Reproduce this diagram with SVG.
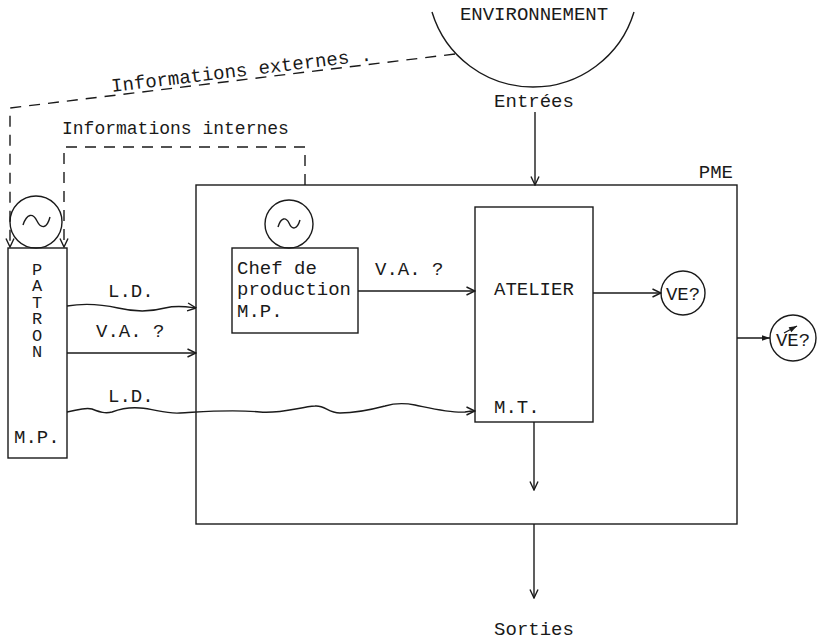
<svg xmlns="http://www.w3.org/2000/svg" width="828" height="640" viewBox="0 0 828 640">
  <defs>
    <style>
      .t { font-family: "Liberation Mono", "Courier New", monospace; font-size: 19px; fill: #1a1a1a; }
      .m { text-anchor: middle; }
      .ln { fill: none; stroke: #1a1a1a; stroke-width: 1.4; }
      .dash { fill: none; stroke: #1a1a1a; stroke-width: 1.4; stroke-dasharray: 11 8; }
      .arr { marker-end: url(#open); }
      .vert { writing-mode: vertical-rl; text-orientation: upright; font-size: 17px; letter-spacing: -2.6px; }
    </style>
    <marker id="open" viewBox="0 0 10 10" refX="9.5" refY="5" markerWidth="10" markerHeight="10" orient="auto" markerUnits="userSpaceOnUse">
      <path d="M1,1 L9.5,5 L1,9" fill="none" stroke="#1a1a1a" stroke-width="1.4"/>
    </marker>
    <marker id="solid" viewBox="0 0 10 10" refX="10" refY="5" markerWidth="10" markerHeight="8" orient="auto" markerUnits="userSpaceOnUse">
      <path d="M0,1.5 L10,5 L0,8.5 z" fill="#1a1a1a"/>
    </marker>
  </defs>
  <rect width="828" height="640" fill="#fff"/>

  <!-- surrounding environment -->
  <g id="environnement">
    <path class="ln" d="M432,12 A105.5,105.5 0 0 0 634,12"/>
    <text class="t m" x="534" y="20">ENVIRONNEMENT</text>
  </g>

  <!-- the firm -->
  <g id="pme">
    <rect class="ln" x="196" y="185" width="541" height="339"/>
    <text class="t" x="733" y="178" text-anchor="end">PME</text>
  </g>

  <!-- owner with its regulator -->
  <g id="patron">
    <circle class="ln" cx="36" cy="222" r="26"/>
    <path class="ln" d="M23,225 C27,213 33,213 37,221 C41,229 47,229 50,217"/>
    <rect class="ln" x="8" y="248" width="59" height="210"/>
    <text class="t vert" x="37" y="261">PATRON</text>
    <text class="t" x="14" y="443">M.P.</text>
  </g>

  <!-- production manager with its regulator -->
  <g id="chef">
    <circle class="ln" cx="289" cy="224" r="24"/>
    <path class="ln" d="M278,227 C281,217 286,217 289,223 C292,230 297,230 300,220"/>
    <rect class="ln" x="232" y="248" width="126" height="85"/>
    <text class="t" x="237" y="274">Chef de</text>
    <text class="t" x="237" y="295">production</text>
    <text class="t" x="237" y="317">M.P.</text>
  </g>

  <!-- workshop -->
  <g id="atelier">
    <rect class="ln" x="475" y="207" width="118" height="215"/>
    <text class="t" x="494" y="295">ATELIER</text>
    <text class="t" x="494" y="413">M.T.</text>
  </g>

  <g id="ve1">
    <circle class="ln" cx="683" cy="293" r="22"/>
    <text class="t m" x="683" y="300">VE?</text>
  </g>

  <g id="ve2">
    <circle class="ln" cx="793" cy="338" r="23"/>
    <text class="t m" x="793" y="346">VE?</text>
    <path class="ln" d="M784,333 L797,326" marker-end="url(#solid)"/>
  </g>

  <!-- flows -->
  <g id="connectors">
    <!-- information loops -->
    <path class="dash arr" d="M455,54 L10,108 L10,247"/>
    <path class="dash arr" d="M305,185 L305,147 L64,147 L64,247"/>
    <!-- inputs and outputs -->
    <path class="ln arr" d="M535,112 L535,185"/>
    <path class="ln arr" d="M534,422 L534,490"/>
    <path class="ln arr" d="M534,524 L534,598"/>
    <!-- orders and value flows -->
    <path class="ln arr" d="M67,306 C85,303 100,304 118,308 C135,312 150,312 165,308 C178,305 188,307 196,308"/>
    <path class="ln arr" d="M67,353 L196,353"/>
    <path class="ln arr" d="M67,412 C78,410 85,407 92,409 C100,412 105,414 112,412 C120,409 128,407 140,408 C155,409 165,414 180,413 C200,412 230,409 260,412 C280,414 300,407 315,406 C325,405 328,413 340,413 C355,413 370,410 385,406 C395,403 405,403 415,405 C430,408 450,413 465,412 C470,411 473,411 475,411"/>
    <path class="ln arr" d="M358,291 L475,291"/>
    <path class="ln arr" d="M593,293 L661,293"/>
    <path class="ln" d="M737,338 L770,338" marker-end="url(#solid)"/>
  </g>

  <!-- flow labels -->
  <g id="labels">
    <text class="t" x="112" y="92" transform="rotate(-6.9 112 92)">Informations externes .</text>
    <text class="t" x="62" y="134" style="font-size:18px">Informations internes</text>
    <text class="t m" x="534" y="107">Entrées</text>
    <text class="t" x="108" y="297">L.D.</text>
    <text class="t" x="96" y="337">V.A. ?</text>
    <text class="t" x="108" y="402">L.D.</text>
    <text class="t" x="375" y="275">V.A. ?</text>
    <text class="t m" x="534" y="635">Sorties</text>
  </g>
</svg>
